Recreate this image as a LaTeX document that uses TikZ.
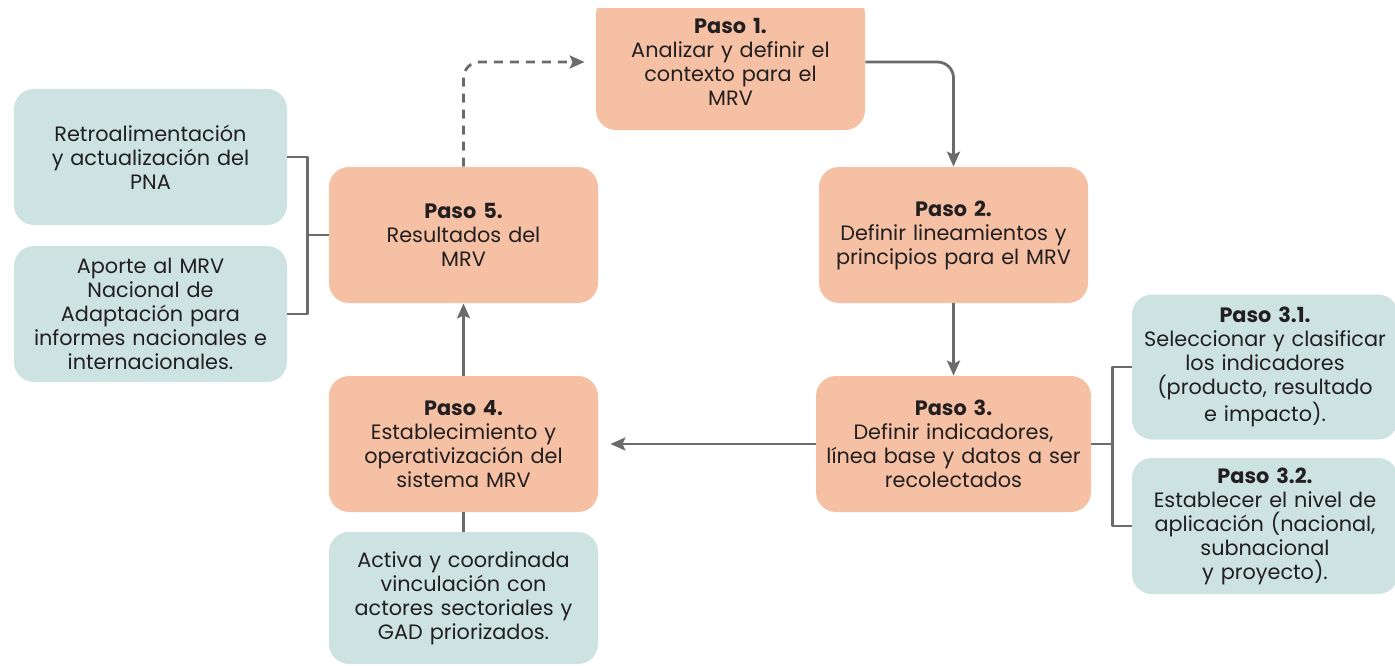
\documentclass[tikz,border=0pt]{standalone}
\usepackage{fontspec}
\setmainfont{Poppins}
\usetikzlibrary{arrows.meta}
\definecolor{paso}{HTML}{F5C0A4}
\definecolor{nota}{HTML}{CCE3E1}
\definecolor{linea}{HTML}{6B6B6B}
\definecolor{texto}{HTML}{231F20}
\tikzset{
  caja/.style={rounded corners=10pt, inner sep=0pt, align=center, text=texto,
    minimum width=134.5pt, minimum height=68pt, text width=132pt,
    font=\fontsize{10.4}{12}\selectfont},
  pasobox/.style={caja, fill=paso},
  notabox/.style={caja, fill=nota},
  flecha/.style={draw=linea, line width=1.4pt, -{Stealth[length=7.5pt,width=6.5pt,inset=1.5pt]}},
  enlace/.style={draw=linea, line width=1.4pt}
}
\begin{document}
\begin{tikzpicture}[x=0.5pt,y=-0.5pt, line join=round]
  \useasboundingbox (0,0) rectangle (1395,665);
  \clip (0,8) rectangle (1395,665);
  % pasos
  \node[pasobox] (p1) at (730.5,62) {\textbf{Paso 1.}\\Analizar y definir el\\contexto para el\\MRV};
  \node[pasobox] (p2) at (953.5,235) {\textbf{Paso 2.}\\Definir lineamientos y\\principios para el MRV};
  \node[pasobox, minimum width=137.5pt] (p3) at (953.5,444) {\textbf{Paso 3.}\\Definir indicadores,\\línea base y datos a ser\\recolectados};
  \node[pasobox] (p4) at (463.5,444) {\textbf{Paso 4.}\\Establecimiento y\\operativización del\\sistema MRV};
  \node[pasobox] (p5) at (463.5,235) {\textbf{Paso 5.}\\Resultados del\\MRV};
  % notas
  \node[notabox, minimum width=136.5pt] (retro) at (150.5,157) {Retroalimentación\\y actualización del\\PNA};
  \node[notabox, minimum width=136.5pt] (aporte) at (150.5,314) {Aporte al MRV\\Nacional de\\Adaptación para\\informes nacionales e\\internacionales.};
  \node[notabox, minimum height=66pt] (activa) at (463.5,598) {Activa y coordinada\\vinculación con\\actores sectoriales y\\GAD priorizados.};
  \node[notabox, minimum width=133pt, minimum height=72.5pt] (p31) at (1265,367) {\textbf{Paso 3.1.}\\Seleccionar y clasificar\\los indicadores\\(producto, resultado\\e impacto).};
  \node[notabox, minimum width=133pt] (p32) at (1265,526) {\textbf{Paso 3.2.}\\Establecer el nivel de\\aplicación (nacional,\\subnacional\\y proyecto).};
  % flechas
  \draw[flecha, rounded corners=8pt] (p1.east) -| (p2.north);
  \draw[flecha] (p2.south) -- (p3.north);
  \draw[flecha, shorten >=6pt] (p3.west) -- (p4.east);
  \draw[flecha] (p4.north) -- (p5.south);
  \draw[flecha, dash pattern=on 4.5pt off 3.5pt, rounded corners=8pt, shorten >=5.5pt] (p5.north) |- (p1.west);
  \draw[enlace] (p4.south) -- (activa.north);
  % corchetes
  \draw[enlace] (p5.west) -- ++(-21,0) coordinate (b5);
  \draw[enlace] (retro.east) -| (b5) |- (aporte.east);
  \draw[enlace] (p3.east) -- ++(21,0) coordinate (b3);
  \draw[enlace] (p31.west) -| (b3) |- (p32.west);
\end{tikzpicture}
\end{document}
